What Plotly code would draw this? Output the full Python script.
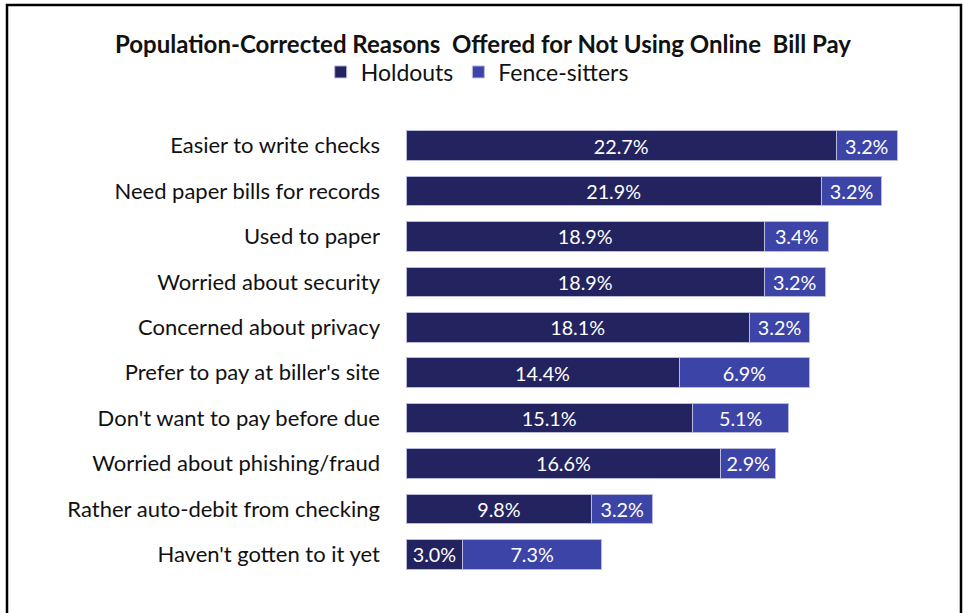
import plotly.graph_objects as go

categories = [
    "Easier to write checks",
    "Need paper bills for records",
    "Used to paper",
    "Worried about security",
    "Concerned about privacy",
    "Prefer to pay at biller's site",
    "Don't want to pay before due",
    "Worried about phishing/fraud",
    "Rather auto-debit from checking",
    "Haven't gotten to it yet",
]
holdouts = [22.7, 21.9, 18.9, 18.9, 18.1, 14.4, 15.1, 16.6, 9.8, 3.0]
fence_sitters = [3.2, 3.2, 3.4, 3.2, 3.2, 6.9, 5.1, 2.9, 3.2, 7.3]

W, H = 966, 613
ML, MR, MT, MB = 406, 26, 123, 36
PX_PER_PCT = 18.96
xmax = (W - ML - MR) / PX_PER_PCT

FONT = "Lato, 'Open Sans', sans-serif"
DARK = "#23235F"
LIGHT = "#3D44A8"

fig = go.Figure()
for name, vals, col in [("Holdouts", holdouts, DARK), ("Fence-sitters", fence_sitters, LIGHT)]:
    fig.add_trace(go.Bar(
        name=name, y=categories, x=vals, orientation="h",
        marker=dict(color=col, line=dict(color="#B8BADF", width=1)),
        text=[f"{v:.1f}%" for v in vals], textposition="inside",
        insidetextanchor="middle",
        textfont=dict(color="white", size=21, family=FONT),
        hoverinfo="skip",
    ))

pw = W - ML - MR
ph = H - MT - MB
def px_x(x):
    return (x - ML) / pw
def px_y(y):
    return (H - MB - y) / ph

fig.update_layout(
    width=W, height=H,
    barmode="stack", bargap=0.35,
    margin=dict(l=ML, r=MR, t=MT, b=MB),
    paper_bgcolor="white", plot_bgcolor="white",
    font=dict(family=FONT, color="#111111"),
    title=dict(text="<b>Population-Corrected Reasons  Offered for Not Using Online  Bill Pay</b>",
               x=0.5, xref="container", xanchor="center",
               y=1 - 45 / H, yref="container", yanchor="middle",
               font=dict(size=24, family=FONT, color="#111111")),
    legend=dict(orientation="h", xref="container", yref="container",
                x=0.494, xanchor="center", y=1 - 72 / H, yanchor="middle",
                font=dict(size=23, family=FONT, color="#111111"),
                traceorder="normal"),
    xaxis=dict(range=[0, xmax], visible=False, fixedrange=True),
    yaxis=dict(autorange="reversed", showgrid=False, showline=False, ticks="",
               tickfont=dict(size=22, family=FONT, color="#111111"),
               ticklabelstandoff=25),
    shapes=[dict(type="rect", xref="paper", yref="paper",
                 x0=px_x(7), x1=px_x(961), y0=px_y(625), y1=px_y(5),
                 line=dict(color="black", width=2.5), fillcolor="rgba(0,0,0,0)")],
    showlegend=True,
)

fig.write_html("out.html", config={"displayModeBar": False},
               post_script="document.body.style.margin='0';")
